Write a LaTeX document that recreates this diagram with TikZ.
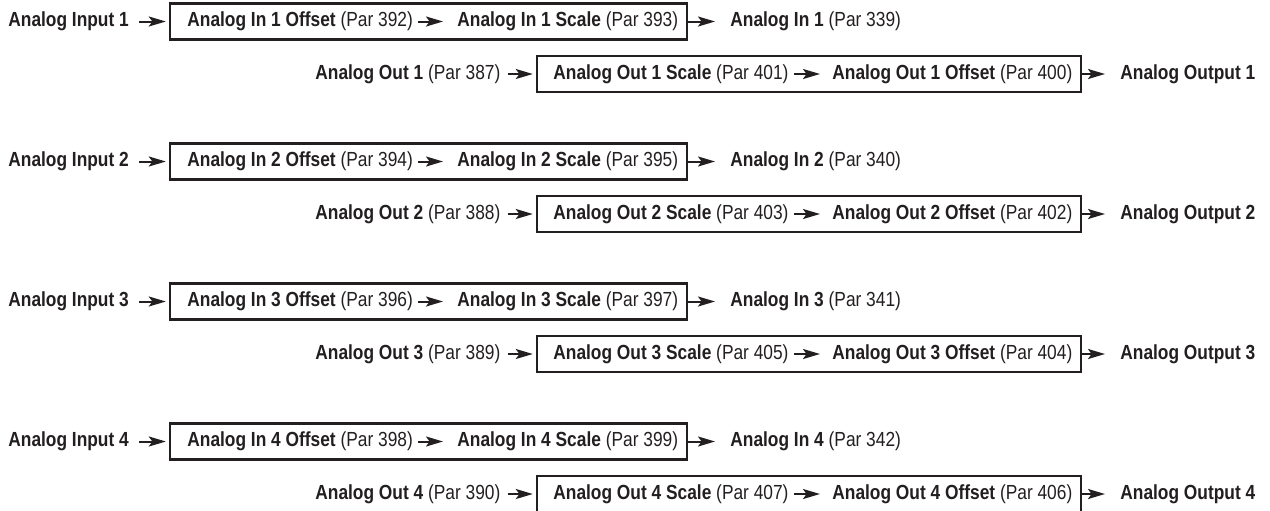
\documentclass[tikz,border=0pt]{standalone}
\usepackage{fontspec}
\setmainfont{Liberation Sans}[FakeStretch=0.85]
\usetikzlibrary{arrows.meta,positioning}
\definecolor{ink}{HTML}{231F20}
\tikzset{
  lbl/.style={inner sep=0pt,anchor=west,text=ink,font=\fontsize{10.2pt}{12pt}\selectfont},
  pbox/.style={draw=ink,line width=1.2pt,minimum height=18pt,inner sep=0pt},
  flow/.style={-{Stealth[length=8.5pt,width=5pt,inset=1.8pt]},line width=1pt,draw=ink}
}

\begin{document}
\begin{tikzpicture}[x=0.5pt,y=-0.5pt]
  \useasboundingbox (0,0) rectangle (1270,510);
  \foreach \k/\po/\ps/\pr/\pa/\pb/\pc in {1/392/393/339/387/401/400,
      2/394/395/340/388/403/402, 3/396/397/341/389/405/404, 4/398/399/342/390/407/406}{
    % analog input chain
    \node[pbox,minimum width=258.5pt] (ibox\k) at (428.5,{21.5+140*(\k-1)}) {};
    \node[lbl] (inp\k) at (8,{21.5+140*(\k-1)}) {\textbf{Analog Input \k}};
    \node[lbl] (ioff\k) at (187,{21.5+140*(\k-1)}) {\textbf{Analog In \k\ Offset} (Par \po)};
    \node[lbl] (iscl\k) at (457,{21.5+140*(\k-1)}) {\textbf{Analog In \k\ Scale} (Par \ps)};
    \node[lbl] (ires\k) at (730,{21.5+140*(\k-1)}) {\textbf{Analog In \k} (Par \pr)};
    \draw[flow,shorten <=5pt,shorten >=1.5pt] (inp\k.east) -- (ibox\k.west);
    \draw[flow,shorten <=2.5pt,shorten >=7pt] (ioff\k.east) -- (iscl\k.west);
    \draw[flow,shorten >=7.5pt] (ibox\k.east) -- (ires\k.west);
    % analog output chain
    \node[pbox,minimum width=272pt] (obox\k) at (809,{74+140*(\k-1)}) {};
    \node[lbl] (osrc\k) at (315,{74+140*(\k-1)}) {\textbf{Analog Out \k} (Par \pa)};
    \node[lbl] (oscl\k) at (553,{74+140*(\k-1)}) {\textbf{Analog Out \k\ Scale} (Par \pb)};
    \node[lbl] (ooff\k) at (832,{74+140*(\k-1)}) {\textbf{Analog Out \k\ Offset} (Par \pc)};
    \node[lbl] (oout\k) at (1120,{74+140*(\k-1)}) {\textbf{Analog Output \k}};
    \draw[flow,shorten <=3.5pt,shorten >=1.5pt] (osrc\k.east) -- (obox\k.west);
    \draw[flow,shorten <=2.5pt,shorten >=6pt] (oscl\k.east) -- (ooff\k.west);
    \draw[flow,shorten >=7.5pt] (obox\k.east) -- (oout\k.west);
  }
\end{tikzpicture}
\end{document}
